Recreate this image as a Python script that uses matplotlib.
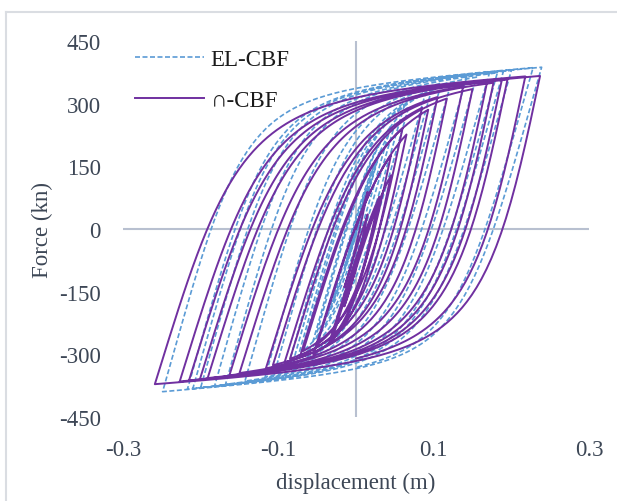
import numpy as np
import matplotlib.pyplot as plt
from matplotlib.lines import Line2D

plt.rcParams['font.family'] = ['Liberation Serif', 'DejaVu Serif']
plt.rcParams['axes.unicode_minus'] = False

# reversal displacements (m), alternating +/- peaks
omega_peaks = [0.015, -0.015, 0.015, -0.015, 0.03, -0.035, 0.03, -0.03,
               0.045, -0.055, 0.045, -0.05, 0.065, -0.072, 0.06, -0.068,
               0.093, -0.092, 0.085, -0.085, 0.117, -0.116, 0.105, -0.107,
               0.150, -0.163, 0.138, -0.150, 0.177, -0.201, 0.169, -0.191,
               0.195, -0.227, 0.188, -0.215, 0.237, -0.259, 0.218, 0.0]
el_peaks = [0.015, -0.015, 0.015, -0.015, 0.03, -0.035, 0.03, -0.03,
            0.05, -0.055, 0.045, -0.05, 0.068, -0.075, 0.062, -0.07,
            0.097, -0.088, 0.09, -0.082, 0.122, -0.117, 0.11, -0.105,
            0.155, -0.168, 0.143, -0.143, 0.182, -0.200, 0.172, -0.182,
            0.200, -0.217, 0.190, -0.210, 0.239, -0.249, 0.228, 0.0]

# branch parameters fitted to the outer loops:
# (E loading, E unloading, Fy, Eh, R loading, R unloading)
omega_par = (6000, 8860, 356, 110, 2.5, 2.0)
el_par = (6580, 6580, 364, 145, 3.0, 3.0)

x_ticks = [-0.3, -0.1, 0.1, 0.3]
y_ticks = [-450, -300, -150, 0, 150, 300, 450]


def branch(xr, fr, xt, E_up, E_dn, Fy, Eh, R_up, R_dn):
    s = 1 if xt > xr else -1
    E = E_up if s > 0 else E_dn
    R = R_up if s > 0 else R_dn
    b = Eh / E
    x0 = (s * Fy * (1 - b) - fr + E * xr) / (E - Eh)
    f0 = fr + E * (x0 - xr)
    x = np.linspace(xr, xt, 80)
    e = (x - xr) / (x0 - xr)
    sig = b * e + (1 - b) * e / (1 + np.abs(e) ** R) ** (1 / R)
    return x, fr + sig * (f0 - fr)


def loops(peaks, par):
    xs, fs = [0.0], [0.0]
    xr, fr = 0.0, 0.0
    for p in peaks:
        x, f = branch(xr, fr, p, *par)
        xs.extend(x[1:])
        fs.extend(f[1:])
        xr, fr = x[-1], f[-1]
    return np.array(xs), np.array(fs)


fig = plt.figure(figsize=(6.17, 5.02), dpi=100)
ax = fig.add_axes([123 / 617, 84 / 502, 466 / 617, 376 / 502])

ax.axhline(0, color='#b8c0d0', lw=1.5, zorder=1)
ax.axvline(0, color='#b8c0d0', lw=1.5, zorder=1)

xe, fe = loops(el_peaks, el_par)
xo, fo = loops(omega_peaks, omega_par)
ax.plot(xe, fe, color='#5b9bd5', lw=1.2, ls=(0, (3, 1.5)), label='EL-CBF', zorder=2)
ax.plot(xo, fo, color='#7030a0', lw=1.4, label='\u2229-CBF', zorder=3)

ax.set_xlim(-0.3, 0.3)
ax.set_ylim(-450, 450)
ax.set_xticks(x_ticks)
ax.set_xticklabels([str(v) for v in x_ticks])
ax.set_yticks(y_ticks)
for sp in ax.spines.values():
    sp.set_visible(False)
ax.tick_params(length=0, labelsize=16.5, labelcolor='#3d4756')
ax.tick_params(axis='y', pad=16)
ax.tick_params(axis='x', pad=16)

ax.set_xlabel('displacement (m)', fontsize=16.5, color='#3d4756')
ax.set_ylabel('Force (kn)', fontsize=16.5, color='#3d4756')
ax.xaxis.set_label_coords(0.5, -0.145)
ax.yaxis.set_label_coords(-0.15, 0.5)

leg = ax.legend(loc='upper left', bbox_to_anchor=(0.026, 0.978), frameon=False,
                fontsize=16.5, handlelength=3.0, handletextpad=0.3,
                labelspacing=0.85, borderpad=0, borderaxespad=0)
for t in leg.get_texts():
    t.set_color('#1a1a1a')

fig.add_artist(Line2D([6 / 617, 6 / 617], [0, 1 - 13 / 502], color='#dadde2', lw=1.5))
fig.add_artist(Line2D([6 / 617, 1], [1 - 13 / 502, 1 - 13 / 502], color='#dadde2', lw=1.5))

fig.savefig('out.png', dpi=100)
